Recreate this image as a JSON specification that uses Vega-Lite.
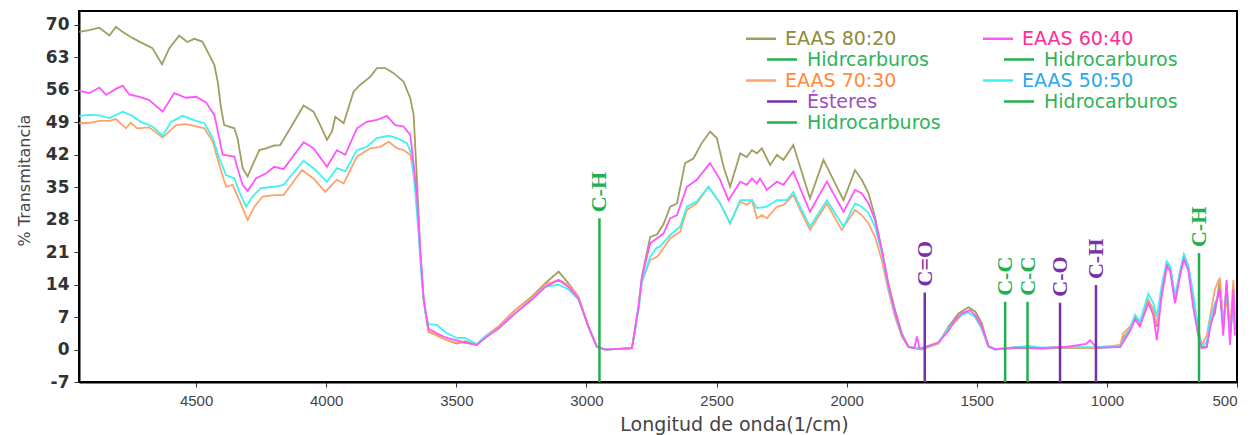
{
  "$schema": "https://vega.github.io/schema/vega-lite/v6.json",
  "width": 1158,
  "height": 371,
  "autosize": {"type": "none"},
  "padding": {"left": 79, "top": 11, "right": 20, "bottom": 53},
  "background": "white",
  "config": {
    "view": {"stroke": "black", "strokeWidth": 2},
    "axis": {"grid": false, "domainColor": "black", "domainWidth": 2, "tickColor": "#333", "tickSize": 5, "tickWidth": 1}
  },
  "datasets": {
    "ann": [
      {"s": "Hidrcarburos", "w": 2950, "top": 28.3, "lab": "C-H"},
      {"s": "Ésteres", "w": 1700, "top": 12.3, "lab": "C=O"},
      {"s": "Hidrocarburos (60:40)", "w": 1391, "top": 10.3, "lab": "C-C"},
      {"s": "Hidrocarburos (50:50)", "w": 1305, "top": 10.3, "lab": "C-C"},
      {"s": "Ésteres", "w": 1180, "top": 10.1, "lab": "C-O"},
      {"s": "Ésteres", "w": 1042, "top": 13.9, "lab": "C-H"},
      {"s": "Hidrocarburos (70:30)", "w": 646, "top": 20.8, "lab": "C-H"}
    ],
    "spec": [
      {"s":"EAAS 80:20","w":4949,"t":68.5},{"s":"EAAS 80:20","w":4910,"t":68.9},{"s":"EAAS 80:20","w":4872,"t":69.4},{"s":"EAAS 80:20","w":4833,"t":67.7},{"s":"EAAS 80:20","w":4808,"t":69.6},{"s":"EAAS 80:20","w":4783,"t":68.5},{"s":"EAAS 80:20","w":4745,"t":67.2},{"s":"EAAS 80:20","w":4718,"t":66.4},{"s":"EAAS 80:20","w":4668,"t":65.0},{"s":"EAAS 80:20","w":4631,"t":61.5},{"s":"EAAS 80:20","w":4603,"t":65.0},{"s":"EAAS 80:20","w":4565,"t":67.7},{"s":"EAAS 80:20","w":4534,"t":66.3},{"s":"EAAS 80:20","w":4507,"t":67.0},{"s":"EAAS 80:20","w":4476,"t":66.4},{"s":"EAAS 80:20","w":4449,"t":63.5},{"s":"EAAS 80:20","w":4430,"t":61.4},{"s":"EAAS 80:20","w":4417,"t":57.8},{"s":"EAAS 80:20","w":4404,"t":52.0},{"s":"EAAS 80:20","w":4392,"t":48.4},{"s":"EAAS 80:20","w":4353,"t":47.7},{"s":"EAAS 80:20","w":4341,"t":45.6},{"s":"EAAS 80:20","w":4321,"t":39.1},{"s":"EAAS 80:20","w":4302,"t":37.3},{"s":"EAAS 80:20","w":4283,"t":39.8},{"s":"EAAS 80:20","w":4257,"t":43.0},{"s":"EAAS 80:20","w":4231,"t":43.4},{"s":"EAAS 80:20","w":4200,"t":44.0},{"s":"EAAS 80:20","w":4177,"t":44.1},{"s":"EAAS 80:20","w":4138,"t":47.7},{"s":"EAAS 80:20","w":4087,"t":52.6},{"s":"EAAS 80:20","w":4049,"t":51.3},{"s":"EAAS 80:20","w":4023,"t":48.4},{"s":"EAAS 80:20","w":3997,"t":45.2},{"s":"EAAS 80:20","w":3978,"t":47.0},{"s":"EAAS 80:20","w":3965,"t":50.2},{"s":"EAAS 80:20","w":3933,"t":48.8},{"s":"EAAS 80:20","w":3895,"t":55.6},{"s":"EAAS 80:20","w":3869,"t":57.1},{"s":"EAAS 80:20","w":3831,"t":58.8},{"s":"EAAS 80:20","w":3805,"t":60.7},{"s":"EAAS 80:20","w":3773,"t":60.7},{"s":"EAAS 80:20","w":3741,"t":59.6},{"s":"EAAS 80:20","w":3703,"t":57.8},{"s":"EAAS 80:20","w":3677,"t":54.2},{"s":"EAAS 80:20","w":3664,"t":50.6},{"s":"EAAS 80:20","w":3651,"t":36.2},{"s":"EAAS 80:20","w":3639,"t":21.8},{"s":"EAAS 80:20","w":3626,"t":11.0},{"s":"EAAS 80:20","w":3607,"t":3.8},{"s":"EAAS 80:20","w":3575,"t":3.1},{"s":"EAAS 80:20","w":3536,"t":2.0},{"s":"EAAS 80:20","w":3498,"t":1.3},{"s":"EAAS 80:20","w":3466,"t":1.8},{"s":"EAAS 80:20","w":3421,"t":1.0},{"s":"EAAS 80:20","w":3389,"t":2.8},{"s":"EAAS 80:20","w":3338,"t":4.9},{"s":"EAAS 80:20","w":3274,"t":8.5},{"s":"EAAS 80:20","w":3210,"t":11.4},{"s":"EAAS 80:20","w":3158,"t":14.3},{"s":"EAAS 80:20","w":3107,"t":16.8},{"s":"EAAS 80:20","w":3069,"t":14.3},{"s":"EAAS 80:20","w":3031,"t":11.4},{"s":"EAAS 80:20","w":2992,"t":4.9},{"s":"EAAS 80:20","w":2960,"t":0.6},{"s":"EAAS 80:20","w":2928,"t":0},{"s":"EAAS 80:20","w":2825,"t":0.3},{"s":"EAAS 80:20","w":2800,"t":9.2},{"s":"EAAS 80:20","w":2787,"t":15.7},{"s":"EAAS 80:20","w":2755,"t":24.3},{"s":"EAAS 80:20","w":2729,"t":24.8},{"s":"EAAS 80:20","w":2704,"t":27.0},{"s":"EAAS 80:20","w":2678,"t":30.8},{"s":"EAAS 80:20","w":2652,"t":31.5},{"s":"EAAS 80:20","w":2621,"t":40.2},{"s":"EAAS 80:20","w":2589,"t":41.2},{"s":"EAAS 80:20","w":2557,"t":44.5},{"s":"EAAS 80:20","w":2525,"t":47.0},{"s":"EAAS 80:20","w":2499,"t":45.6},{"s":"EAAS 80:20","w":2473,"t":39.4},{"s":"EAAS 80:20","w":2448,"t":35.1},{"s":"EAAS 80:20","w":2409,"t":42.3},{"s":"EAAS 80:20","w":2384,"t":41.5},{"s":"EAAS 80:20","w":2364,"t":43.0},{"s":"EAAS 80:20","w":2345,"t":42.3},{"s":"EAAS 80:20","w":2326,"t":43.4},{"s":"EAAS 80:20","w":2294,"t":39.8},{"s":"EAAS 80:20","w":2268,"t":42.0},{"s":"EAAS 80:20","w":2243,"t":40.9},{"s":"EAAS 80:20","w":2205,"t":44.1},{"s":"EAAS 80:20","w":2179,"t":39.4},{"s":"EAAS 80:20","w":2141,"t":32.6},{"s":"EAAS 80:20","w":2089,"t":40.9},{"s":"EAAS 80:20","w":2051,"t":36.6},{"s":"EAAS 80:20","w":2012,"t":32.2},{"s":"EAAS 80:20","w":1968,"t":38.7},{"s":"EAAS 80:20","w":1942,"t":36.6},{"s":"EAAS 80:20","w":1916,"t":33.7},{"s":"EAAS 80:20","w":1891,"t":28.6},{"s":"EAAS 80:20","w":1865,"t":21.5},{"s":"EAAS 80:20","w":1840,"t":14.3},{"s":"EAAS 80:20","w":1814,"t":8.5},{"s":"EAAS 80:20","w":1788,"t":3.5},{"s":"EAAS 80:20","w":1763,"t":0.6},{"s":"EAAS 80:20","w":1711,"t":0},{"s":"EAAS 80:20","w":1648,"t":1.3},{"s":"EAAS 80:20","w":1609,"t":4.9},{"s":"EAAS 80:20","w":1570,"t":7.8},{"s":"EAAS 80:20","w":1532,"t":9.1},{"s":"EAAS 80:20","w":1506,"t":8.2},{"s":"EAAS 80:20","w":1481,"t":5.7},{"s":"EAAS 80:20","w":1455,"t":0.6},{"s":"EAAS 80:20","w":1430,"t":0},{"s":"EAAS 80:20","w":1350,"t":0.3},{"s":"EAAS 80:20","w":1250,"t":0.2},{"s":"EAAS 80:20","w":1150,"t":0.4},{"s":"EAAS 80:20","w":1050,"t":0.3},{"s":"EAAS 80:20","w":949,"t":0.6},{"s":"EAAS 80:20","w":937,"t":2.5},{"s":"EAAS 80:20","w":911,"t":4.5},{"s":"EAAS 80:20","w":892,"t":7.1},{"s":"EAAS 80:20","w":873,"t":5.7},{"s":"EAAS 80:20","w":841,"t":10.7},{"s":"EAAS 80:20","w":822,"t":8.5},{"s":"EAAS 80:20","w":808,"t":4.9},{"s":"EAAS 80:20","w":789,"t":12.8},{"s":"EAAS 80:20","w":770,"t":18.6},{"s":"EAAS 80:20","w":757,"t":17.9},{"s":"EAAS 80:20","w":738,"t":10.7},{"s":"EAAS 80:20","w":719,"t":16.4},{"s":"EAAS 80:20","w":704,"t":20.4},{"s":"EAAS 80:20","w":687,"t":17.9},{"s":"EAAS 80:20","w":668,"t":11.4},{"s":"EAAS 80:20","w":649,"t":4.2},{"s":"EAAS 80:20","w":636,"t":0.6},{"s":"EAAS 80:20","w":616,"t":0.6},{"s":"EAAS 80:20","w":604,"t":5.7},{"s":"EAAS 80:20","w":585,"t":7.8},{"s":"EAAS 80:20","w":566,"t":15.0},{"s":"EAAS 80:20","w":553,"t":4.2},{"s":"EAAS 80:20","w":540,"t":14.3},{"s":"EAAS 80:20","w":527,"t":2.0},{"s":"EAAS 80:20","w":514,"t":11.4},{"s":"EAAS 80:20","w":508,"t":4.2},

      {"s":"EAAS 70:30","w":4949,"t":48.8},{"s":"EAAS 70:30","w":4910,"t":48.9},{"s":"EAAS 70:30","w":4872,"t":49.3},{"s":"EAAS 70:30","w":4833,"t":49.3},{"s":"EAAS 70:30","w":4808,"t":49.7},{"s":"EAAS 70:30","w":4770,"t":47.7},{"s":"EAAS 70:30","w":4751,"t":48.9},{"s":"EAAS 70:30","w":4726,"t":47.7},{"s":"EAAS 70:30","w":4680,"t":47.9},{"s":"EAAS 70:30","w":4629,"t":45.7},{"s":"EAAS 70:30","w":4577,"t":48.4},{"s":"EAAS 70:30","w":4539,"t":48.6},{"s":"EAAS 70:30","w":4500,"t":48.1},{"s":"EAAS 70:30","w":4468,"t":47.7},{"s":"EAAS 70:30","w":4436,"t":44.8},{"s":"EAAS 70:30","w":4411,"t":39.8},{"s":"EAAS 70:30","w":4385,"t":35.1},{"s":"EAAS 70:30","w":4360,"t":35.5},{"s":"EAAS 70:30","w":4334,"t":32.2},{"s":"EAAS 70:30","w":4302,"t":27.9},{"s":"EAAS 70:30","w":4276,"t":30.8},{"s":"EAAS 70:30","w":4244,"t":33.0},{"s":"EAAS 70:30","w":4200,"t":33.3},{"s":"EAAS 70:30","w":4164,"t":33.3},{"s":"EAAS 70:30","w":4093,"t":38.7},{"s":"EAAS 70:30","w":4049,"t":36.9},{"s":"EAAS 70:30","w":4004,"t":34.0},{"s":"EAAS 70:30","w":3959,"t":36.6},{"s":"EAAS 70:30","w":3933,"t":35.8},{"s":"EAAS 70:30","w":3882,"t":41.6},{"s":"EAAS 70:30","w":3831,"t":43.4},{"s":"EAAS 70:30","w":3792,"t":43.7},{"s":"EAAS 70:30","w":3760,"t":44.8},{"s":"EAAS 70:30","w":3728,"t":43.4},{"s":"EAAS 70:30","w":3703,"t":43.0},{"s":"EAAS 70:30","w":3677,"t":42.0},{"s":"EAAS 70:30","w":3664,"t":38.0},{"s":"EAAS 70:30","w":3651,"t":32.0},{"s":"EAAS 70:30","w":3639,"t":21.0},{"s":"EAAS 70:30","w":3626,"t":11.0},{"s":"EAAS 70:30","w":3607,"t":4.0},{"s":"EAAS 70:30","w":3575,"t":3.0},{"s":"EAAS 70:30","w":3536,"t":2.0},{"s":"EAAS 70:30","w":3498,"t":1.5},{"s":"EAAS 70:30","w":3466,"t":1.5},{"s":"EAAS 70:30","w":3421,"t":1.0},{"s":"EAAS 70:30","w":3389,"t":2.8},{"s":"EAAS 70:30","w":3338,"t":5.0},{"s":"EAAS 70:30","w":3274,"t":8.5},{"s":"EAAS 70:30","w":3210,"t":11.2},{"s":"EAAS 70:30","w":3158,"t":14.0},{"s":"EAAS 70:30","w":3107,"t":15.0},{"s":"EAAS 70:30","w":3069,"t":14.0},{"s":"EAAS 70:30","w":3031,"t":11.4},{"s":"EAAS 70:30","w":2992,"t":4.9},{"s":"EAAS 70:30","w":2960,"t":0.6},{"s":"EAAS 70:30","w":2928,"t":0},{"s":"EAAS 70:30","w":2825,"t":0.3},{"s":"EAAS 70:30","w":2800,"t":9.0},{"s":"EAAS 70:30","w":2787,"t":14.5},{"s":"EAAS 70:30","w":2755,"t":19.3},{"s":"EAAS 70:30","w":2729,"t":20.0},{"s":"EAAS 70:30","w":2717,"t":20.8},{"s":"EAAS 70:30","w":2678,"t":24.0},{"s":"EAAS 70:30","w":2640,"t":25.4},{"s":"EAAS 70:30","w":2614,"t":30.1},{"s":"EAAS 70:30","w":2576,"t":31.5},{"s":"EAAS 70:30","w":2531,"t":35.1},{"s":"EAAS 70:30","w":2486,"t":31.5},{"s":"EAAS 70:30","w":2448,"t":27.2},{"s":"EAAS 70:30","w":2409,"t":31.9},{"s":"EAAS 70:30","w":2384,"t":31.2},{"s":"EAAS 70:30","w":2364,"t":32.2},{"s":"EAAS 70:30","w":2345,"t":28.3},{"s":"EAAS 70:30","w":2326,"t":29.0},{"s":"EAAS 70:30","w":2307,"t":28.3},{"s":"EAAS 70:30","w":2268,"t":30.8},{"s":"EAAS 70:30","w":2243,"t":31.2},{"s":"EAAS 70:30","w":2205,"t":33.3},{"s":"EAAS 70:30","w":2179,"t":30.1},{"s":"EAAS 70:30","w":2141,"t":25.8},{"s":"EAAS 70:30","w":2076,"t":31.5},{"s":"EAAS 70:30","w":2019,"t":25.8},{"s":"EAAS 70:30","w":1968,"t":30.1},{"s":"EAAS 70:30","w":1942,"t":29.0},{"s":"EAAS 70:30","w":1916,"t":27.2},{"s":"EAAS 70:30","w":1891,"t":24.3},{"s":"EAAS 70:30","w":1865,"t":19.3},{"s":"EAAS 70:30","w":1840,"t":12.8},{"s":"EAAS 70:30","w":1814,"t":7.0},{"s":"EAAS 70:30","w":1788,"t":2.8},{"s":"EAAS 70:30","w":1763,"t":0.5},{"s":"EAAS 70:30","w":1711,"t":0.1},{"s":"EAAS 70:30","w":1648,"t":1.3},{"s":"EAAS 70:30","w":1609,"t":4.5},{"s":"EAAS 70:30","w":1583,"t":6.0},{"s":"EAAS 70:30","w":1557,"t":7.5},{"s":"EAAS 70:30","w":1532,"t":8.0},{"s":"EAAS 70:30","w":1506,"t":7.0},{"s":"EAAS 70:30","w":1481,"t":4.5},{"s":"EAAS 70:30","w":1455,"t":0.6},{"s":"EAAS 70:30","w":1430,"t":0.1},{"s":"EAAS 70:30","w":1350,"t":0.5},{"s":"EAAS 70:30","w":1250,"t":0.3},{"s":"EAAS 70:30","w":1150,"t":0.6},{"s":"EAAS 70:30","w":1050,"t":0.3},{"s":"EAAS 70:30","w":949,"t":1.0},{"s":"EAAS 70:30","w":937,"t":3.5},{"s":"EAAS 70:30","w":911,"t":5.0},{"s":"EAAS 70:30","w":892,"t":6.5},{"s":"EAAS 70:30","w":873,"t":5.7},{"s":"EAAS 70:30","w":841,"t":10.7},{"s":"EAAS 70:30","w":822,"t":8.5},{"s":"EAAS 70:30","w":808,"t":5.5},{"s":"EAAS 70:30","w":789,"t":11.5},{"s":"EAAS 70:30","w":770,"t":17.5},{"s":"EAAS 70:30","w":757,"t":17.5},{"s":"EAAS 70:30","w":738,"t":10.0},{"s":"EAAS 70:30","w":719,"t":16.0},{"s":"EAAS 70:30","w":704,"t":19.5},{"s":"EAAS 70:30","w":687,"t":17.5},{"s":"EAAS 70:30","w":668,"t":11.0},{"s":"EAAS 70:30","w":649,"t":4.5},{"s":"EAAS 70:30","w":636,"t":1.0},{"s":"EAAS 70:30","w":616,"t":3.0},{"s":"EAAS 70:30","w":604,"t":7.0},{"s":"EAAS 70:30","w":585,"t":13.0},{"s":"EAAS 70:30","w":566,"t":15.5},{"s":"EAAS 70:30","w":553,"t":6.0},{"s":"EAAS 70:30","w":540,"t":11.0},{"s":"EAAS 70:30","w":527,"t":4.0},{"s":"EAAS 70:30","w":514,"t":15.0},{"s":"EAAS 70:30","w":508,"t":7.0},

      {"s":"EAAS 50:50","w":4949,"t":50.4},{"s":"EAAS 50:50","w":4910,"t":50.6},{"s":"EAAS 50:50","w":4872,"t":50.5},{"s":"EAAS 50:50","w":4833,"t":49.9},{"s":"EAAS 50:50","w":4782,"t":51.3},{"s":"EAAS 50:50","w":4745,"t":50.4},{"s":"EAAS 50:50","w":4713,"t":49.1},{"s":"EAAS 50:50","w":4667,"t":48.1},{"s":"EAAS 50:50","w":4629,"t":46.1},{"s":"EAAS 50:50","w":4596,"t":49.1},{"s":"EAAS 50:50","w":4552,"t":50.4},{"s":"EAAS 50:50","w":4500,"t":49.3},{"s":"EAAS 50:50","w":4468,"t":48.8},{"s":"EAAS 50:50","w":4436,"t":45.6},{"s":"EAAS 50:50","w":4411,"t":41.2},{"s":"EAAS 50:50","w":4385,"t":37.6},{"s":"EAAS 50:50","w":4353,"t":36.9},{"s":"EAAS 50:50","w":4334,"t":34.0},{"s":"EAAS 50:50","w":4308,"t":30.8},{"s":"EAAS 50:50","w":4283,"t":33.0},{"s":"EAAS 50:50","w":4251,"t":34.8},{"s":"EAAS 50:50","w":4200,"t":35.1},{"s":"EAAS 50:50","w":4164,"t":35.5},{"s":"EAAS 50:50","w":4087,"t":40.7},{"s":"EAAS 50:50","w":4049,"t":39.1},{"s":"EAAS 50:50","w":3997,"t":36.2},{"s":"EAAS 50:50","w":3959,"t":39.1},{"s":"EAAS 50:50","w":3927,"t":38.4},{"s":"EAAS 50:50","w":3882,"t":43.0},{"s":"EAAS 50:50","w":3844,"t":43.7},{"s":"EAAS 50:50","w":3805,"t":45.6},{"s":"EAAS 50:50","w":3760,"t":46.1},{"s":"EAAS 50:50","w":3728,"t":45.6},{"s":"EAAS 50:50","w":3690,"t":44.5},{"s":"EAAS 50:50","w":3671,"t":42.0},{"s":"EAAS 50:50","w":3658,"t":34.0},{"s":"EAAS 50:50","w":3645,"t":25.0},{"s":"EAAS 50:50","w":3633,"t":15.0},{"s":"EAAS 50:50","w":3620,"t":8.0},{"s":"EAAS 50:50","w":3607,"t":5.5},{"s":"EAAS 50:50","w":3575,"t":5.3},{"s":"EAAS 50:50","w":3536,"t":3.5},{"s":"EAAS 50:50","w":3498,"t":2.5},{"s":"EAAS 50:50","w":3466,"t":2.5},{"s":"EAAS 50:50","w":3421,"t":1.2},{"s":"EAAS 50:50","w":3389,"t":2.8},{"s":"EAAS 50:50","w":3338,"t":4.5},{"s":"EAAS 50:50","w":3274,"t":7.8},{"s":"EAAS 50:50","w":3210,"t":10.8},{"s":"EAAS 50:50","w":3158,"t":13.5},{"s":"EAAS 50:50","w":3107,"t":14.0},{"s":"EAAS 50:50","w":3069,"t":13.0},{"s":"EAAS 50:50","w":3031,"t":10.8},{"s":"EAAS 50:50","w":2992,"t":4.9},{"s":"EAAS 50:50","w":2960,"t":0.6},{"s":"EAAS 50:50","w":2928,"t":0},{"s":"EAAS 50:50","w":2825,"t":0.3},{"s":"EAAS 50:50","w":2800,"t":8.5},{"s":"EAAS 50:50","w":2787,"t":14.5},{"s":"EAAS 50:50","w":2755,"t":20.0},{"s":"EAAS 50:50","w":2729,"t":22.0},{"s":"EAAS 50:50","w":2717,"t":22.2},{"s":"EAAS 50:50","w":2678,"t":24.7},{"s":"EAAS 50:50","w":2640,"t":26.5},{"s":"EAAS 50:50","w":2614,"t":30.8},{"s":"EAAS 50:50","w":2576,"t":31.9},{"s":"EAAS 50:50","w":2531,"t":35.1},{"s":"EAAS 50:50","w":2486,"t":31.5},{"s":"EAAS 50:50","w":2448,"t":27.2},{"s":"EAAS 50:50","w":2409,"t":32.2},{"s":"EAAS 50:50","w":2364,"t":32.2},{"s":"EAAS 50:50","w":2345,"t":30.5},{"s":"EAAS 50:50","w":2307,"t":30.8},{"s":"EAAS 50:50","w":2268,"t":32.2},{"s":"EAAS 50:50","w":2230,"t":32.2},{"s":"EAAS 50:50","w":2205,"t":34.0},{"s":"EAAS 50:50","w":2179,"t":30.8},{"s":"EAAS 50:50","w":2141,"t":26.5},{"s":"EAAS 50:50","w":2076,"t":32.2},{"s":"EAAS 50:50","w":2012,"t":26.5},{"s":"EAAS 50:50","w":1968,"t":31.5},{"s":"EAAS 50:50","w":1942,"t":30.8},{"s":"EAAS 50:50","w":1916,"t":29.4},{"s":"EAAS 50:50","w":1891,"t":26.5},{"s":"EAAS 50:50","w":1865,"t":20.8},{"s":"EAAS 50:50","w":1840,"t":13.5},{"s":"EAAS 50:50","w":1814,"t":7.5},{"s":"EAAS 50:50","w":1788,"t":3.0},{"s":"EAAS 50:50","w":1763,"t":0.6},{"s":"EAAS 50:50","w":1711,"t":0.2},{"s":"EAAS 50:50","w":1648,"t":1.5},{"s":"EAAS 50:50","w":1609,"t":4.5},{"s":"EAAS 50:50","w":1583,"t":6.5},{"s":"EAAS 50:50","w":1557,"t":7.5},{"s":"EAAS 50:50","w":1532,"t":8.0},{"s":"EAAS 50:50","w":1506,"t":7.0},{"s":"EAAS 50:50","w":1481,"t":4.5},{"s":"EAAS 50:50","w":1455,"t":0.6},{"s":"EAAS 50:50","w":1430,"t":0},{"s":"EAAS 50:50","w":1350,"t":0.5},{"s":"EAAS 50:50","w":1300,"t":0.8},{"s":"EAAS 50:50","w":1250,"t":0.4},{"s":"EAAS 50:50","w":1150,"t":0.5},{"s":"EAAS 50:50","w":1050,"t":0.5},{"s":"EAAS 50:50","w":949,"t":0.8},{"s":"EAAS 50:50","w":911,"t":4.5},{"s":"EAAS 50:50","w":892,"t":7.5},{"s":"EAAS 50:50","w":873,"t":6.0},{"s":"EAAS 50:50","w":841,"t":12.0},{"s":"EAAS 50:50","w":822,"t":10.0},{"s":"EAAS 50:50","w":808,"t":7.0},{"s":"EAAS 50:50","w":789,"t":14.0},{"s":"EAAS 50:50","w":770,"t":19.0},{"s":"EAAS 50:50","w":757,"t":18.0},{"s":"EAAS 50:50","w":738,"t":11.5},{"s":"EAAS 50:50","w":719,"t":17.0},{"s":"EAAS 50:50","w":704,"t":20.5},{"s":"EAAS 50:50","w":687,"t":18.0},{"s":"EAAS 50:50","w":668,"t":12.0},{"s":"EAAS 50:50","w":649,"t":3.5},{"s":"EAAS 50:50","w":636,"t":0.8},{"s":"EAAS 50:50","w":616,"t":1.5},{"s":"EAAS 50:50","w":604,"t":6.5},{"s":"EAAS 50:50","w":585,"t":10.0},{"s":"EAAS 50:50","w":566,"t":12.0},{"s":"EAAS 50:50","w":553,"t":5.0},{"s":"EAAS 50:50","w":540,"t":13.0},{"s":"EAAS 50:50","w":527,"t":3.0},{"s":"EAAS 50:50","w":514,"t":10.0},{"s":"EAAS 50:50","w":508,"t":5.0},

      {"s":"EAAS 60:40","w":4949,"t":55.8},{"s":"EAAS 60:40","w":4910,"t":55.3},{"s":"EAAS 60:40","w":4872,"t":56.5},{"s":"EAAS 60:40","w":4846,"t":54.9},{"s":"EAAS 60:40","w":4808,"t":56.2},{"s":"EAAS 60:40","w":4782,"t":56.9},{"s":"EAAS 60:40","w":4757,"t":55.0},{"s":"EAAS 60:40","w":4718,"t":54.5},{"s":"EAAS 60:40","w":4680,"t":53.8},{"s":"EAAS 60:40","w":4629,"t":51.3},{"s":"EAAS 60:40","w":4584,"t":55.3},{"s":"EAAS 60:40","w":4539,"t":54.3},{"s":"EAAS 60:40","w":4500,"t":54.5},{"s":"EAAS 60:40","w":4462,"t":53.3},{"s":"EAAS 60:40","w":4430,"t":50.6},{"s":"EAAS 60:40","w":4411,"t":45.6},{"s":"EAAS 60:40","w":4398,"t":42.0},{"s":"EAAS 60:40","w":4353,"t":41.6},{"s":"EAAS 60:40","w":4341,"t":39.1},{"s":"EAAS 60:40","w":4321,"t":35.5},{"s":"EAAS 60:40","w":4302,"t":34.2},{"s":"EAAS 60:40","w":4270,"t":36.9},{"s":"EAAS 60:40","w":4231,"t":38.0},{"s":"EAAS 60:40","w":4200,"t":39.4},{"s":"EAAS 60:40","w":4164,"t":38.9},{"s":"EAAS 60:40","w":4087,"t":44.7},{"s":"EAAS 60:40","w":4049,"t":43.4},{"s":"EAAS 60:40","w":3997,"t":39.4},{"s":"EAAS 60:40","w":3959,"t":43.0},{"s":"EAAS 60:40","w":3927,"t":42.0},{"s":"EAAS 60:40","w":3882,"t":47.7},{"s":"EAAS 60:40","w":3844,"t":49.1},{"s":"EAAS 60:40","w":3805,"t":49.5},{"s":"EAAS 60:40","w":3767,"t":50.4},{"s":"EAAS 60:40","w":3735,"t":48.4},{"s":"EAAS 60:40","w":3703,"t":48.1},{"s":"EAAS 60:40","w":3677,"t":46.3},{"s":"EAAS 60:40","w":3664,"t":40.0},{"s":"EAAS 60:40","w":3651,"t":33.0},{"s":"EAAS 60:40","w":3639,"t":21.5},{"s":"EAAS 60:40","w":3626,"t":11.0},{"s":"EAAS 60:40","w":3607,"t":4.5},{"s":"EAAS 60:40","w":3575,"t":3.5},{"s":"EAAS 60:40","w":3536,"t":2.5},{"s":"EAAS 60:40","w":3498,"t":2.0},{"s":"EAAS 60:40","w":3466,"t":1.5},{"s":"EAAS 60:40","w":3421,"t":1.0},{"s":"EAAS 60:40","w":3389,"t":2.5},{"s":"EAAS 60:40","w":3338,"t":4.5},{"s":"EAAS 60:40","w":3274,"t":7.8},{"s":"EAAS 60:40","w":3210,"t":10.8},{"s":"EAAS 60:40","w":3158,"t":13.5},{"s":"EAAS 60:40","w":3107,"t":15.0},{"s":"EAAS 60:40","w":3069,"t":13.5},{"s":"EAAS 60:40","w":3031,"t":11.0},{"s":"EAAS 60:40","w":2992,"t":4.9},{"s":"EAAS 60:40","w":2960,"t":0.6},{"s":"EAAS 60:40","w":2928,"t":0},{"s":"EAAS 60:40","w":2825,"t":0.3},{"s":"EAAS 60:40","w":2800,"t":9.2},{"s":"EAAS 60:40","w":2787,"t":15.5},{"s":"EAAS 60:40","w":2755,"t":22.9},{"s":"EAAS 60:40","w":2729,"t":24.0},{"s":"EAAS 60:40","w":2704,"t":25.0},{"s":"EAAS 60:40","w":2678,"t":28.3},{"s":"EAAS 60:40","w":2652,"t":29.0},{"s":"EAAS 60:40","w":2614,"t":35.1},{"s":"EAAS 60:40","w":2576,"t":36.6},{"s":"EAAS 60:40","w":2525,"t":40.2},{"s":"EAAS 60:40","w":2486,"t":36.6},{"s":"EAAS 60:40","w":2454,"t":32.2},{"s":"EAAS 60:40","w":2409,"t":36.2},{"s":"EAAS 60:40","w":2384,"t":35.5},{"s":"EAAS 60:40","w":2364,"t":36.9},{"s":"EAAS 60:40","w":2345,"t":35.8},{"s":"EAAS 60:40","w":2333,"t":36.9},{"s":"EAAS 60:40","w":2307,"t":34.4},{"s":"EAAS 60:40","w":2268,"t":36.2},{"s":"EAAS 60:40","w":2243,"t":35.5},{"s":"EAAS 60:40","w":2205,"t":38.4},{"s":"EAAS 60:40","w":2179,"t":34.8},{"s":"EAAS 60:40","w":2141,"t":29.7},{"s":"EAAS 60:40","w":2076,"t":36.2},{"s":"EAAS 60:40","w":2012,"t":29.7},{"s":"EAAS 60:40","w":1968,"t":34.4},{"s":"EAAS 60:40","w":1942,"t":33.7},{"s":"EAAS 60:40","w":1916,"t":31.5},{"s":"EAAS 60:40","w":1891,"t":27.9},{"s":"EAAS 60:40","w":1865,"t":21.5},{"s":"EAAS 60:40","w":1840,"t":14.0},{"s":"EAAS 60:40","w":1814,"t":8.0},{"s":"EAAS 60:40","w":1788,"t":3.2},{"s":"EAAS 60:40","w":1763,"t":0.6},{"s":"EAAS 60:40","w":1740,"t":0.3},{"s":"EAAS 60:40","w":1730,"t":2.8},{"s":"EAAS 60:40","w":1720,"t":0.2},{"s":"EAAS 60:40","w":1648,"t":1.5},{"s":"EAAS 60:40","w":1609,"t":4.0},{"s":"EAAS 60:40","w":1583,"t":6.4},{"s":"EAAS 60:40","w":1557,"t":7.8},{"s":"EAAS 60:40","w":1526,"t":8.5},{"s":"EAAS 60:40","w":1506,"t":7.4},{"s":"EAAS 60:40","w":1481,"t":5.0},{"s":"EAAS 60:40","w":1455,"t":0.8},{"s":"EAAS 60:40","w":1430,"t":0.1},{"s":"EAAS 60:40","w":1350,"t":0.4},{"s":"EAAS 60:40","w":1250,"t":0.3},{"s":"EAAS 60:40","w":1150,"t":0.6},{"s":"EAAS 60:40","w":1080,"t":1.2},{"s":"EAAS 60:40","w":1065,"t":2.0},{"s":"EAAS 60:40","w":1040,"t":0.4},{"s":"EAAS 60:40","w":949,"t":0.5},{"s":"EAAS 60:40","w":911,"t":4.0},{"s":"EAAS 60:40","w":892,"t":6.5},{"s":"EAAS 60:40","w":873,"t":5.0},{"s":"EAAS 60:40","w":841,"t":10.0},{"s":"EAAS 60:40","w":822,"t":7.5},{"s":"EAAS 60:40","w":808,"t":2.0},{"s":"EAAS 60:40","w":789,"t":12.0},{"s":"EAAS 60:40","w":770,"t":18.0},{"s":"EAAS 60:40","w":757,"t":17.0},{"s":"EAAS 60:40","w":738,"t":10.0},{"s":"EAAS 60:40","w":719,"t":16.0},{"s":"EAAS 60:40","w":704,"t":19.5},{"s":"EAAS 60:40","w":687,"t":17.0},{"s":"EAAS 60:40","w":668,"t":9.0},{"s":"EAAS 60:40","w":649,"t":3.0},{"s":"EAAS 60:40","w":636,"t":0.3},{"s":"EAAS 60:40","w":616,"t":0.5},{"s":"EAAS 60:40","w":604,"t":4.5},{"s":"EAAS 60:40","w":585,"t":9.0},{"s":"EAAS 60:40","w":566,"t":13.0},{"s":"EAAS 60:40","w":553,"t":3.0},{"s":"EAAS 60:40","w":540,"t":15.0},{"s":"EAAS 60:40","w":527,"t":1.0},{"s":"EAAS 60:40","w":514,"t":13.0},{"s":"EAAS 60:40","w":508,"t":3.0}
    ]
  },
  "layer": [
    {
      "data": {"name": "spec"},
      "mark": {"type": "line", "strokeWidth": 1.8, "interpolate": "linear"},
      "encoding": {
        "x": {
          "field": "w", "type": "quantitative",
          "scale": {"domain": [500, 4950], "reverse": true, "nice": false, "zero": false},
          "axis": {
            "values": [4500, 4000, 3500, 3000, 2500, 2000, 1500, 1000, 500],
            "tickCount": 20,
            "format": "d",
            "labelFont": "Liberation Sans", "labelFontSize": 15, "labelColor": "#444",
            "labelPadding": 6,
            "title": "Longitud de onda(1/cm)",
            "titleFont": "DejaVu Sans", "titleFontSize": 19, "titleFontWeight": "normal", "titleColor": "#444",
            "titlePadding": 7,
            "titleX": 655
          }
        },
        "y": {
          "field": "t", "type": "quantitative",
          "scale": {"domain": [-7, 73], "nice": false, "zero": false},
          "axis": {
            "values": [-7, 0, 7, 14, 21, 28, 35, 42, 49, 56, 63, 70],
            "tickCount": 20,
            "labelExpr": "'' + datum.value",
            "labelOverlap": false,
            "labelFont": "DejaVu Sans", "labelFontSize": 17, "labelFontWeight": "bold", "labelColor": "#333",
            "labelPadding": 5,
            "title": "% Transmitancia",
            "titleFont": "DejaVu Sans", "titleFontSize": 16, "titleFontWeight": "normal", "titleColor": "#444",
            "titlePadding": 13,
            "titleY": 169
          }
        },
        "color": {
          "field": "s", "type": "nominal",
          "scale": {
            "domain": ["EAAS 80:20", "Hidrcarburos", "EAAS 70:30", "Ésteres", "Hidrocarburos (70:30)", "EAAS 60:40", "Hidrocarburos (60:40)", "EAAS 50:50", "Hidrocarburos (50:50)"],
            "range": ["#a09e62", "#22b04e", "#ffa26a", "#7a30a8", "#22b04e", "#ff55ff", "#22b04e", "#3ff2f2", "#22b04e"]
          },
          "legend": {
            "title": null,
            "orient": "none",
            "legendX": 666,
            "legendY": 17,
            "columns": 2,
            "columnPadding": 36,
            "rowPadding": 0,
            "padding": 0,
            "symbolType": "M-1.67,0L1.67,0",
            "symbolSize": 324,
            "symbolStrokeWidth": 2.5,
            "labelFont": "DejaVu Sans",
            "labelFontSize": 19,
            "labelLimit": 300,
            "labelExpr": "split(datum.label, ' (')[0]",
            "encode": {
              "symbols": {
                "update": {
                  "x": {"signal": "indexof(datum.value, 'EAAS') == 0 ? 16 : 37"},
                  "fill": {"value": "transparent"},
                  "stroke": {"signal": "datum.value == 'EAAS 80:20' ? '#8c8a3c' : datum.value == 'EAAS 60:40' ? '#ff3d9a' : datum.value == 'EAAS 70:30' ? '#ff9a5a' : datum.value == 'EAAS 50:50' ? '#3ab4ee' : datum.value == 'Ésteres' ? '#9b4fc0' : '#2fb35a'"}
                }
              },
              "labels": {
                "update": {
                  "x": {"signal": "indexof(datum.value, 'EAAS') == 0 ? 40 : 62"},
                  "fill": {"signal": "datum.value == 'EAAS 80:20' ? '#8c8a3c' : datum.value == 'EAAS 60:40' ? '#ff2d95' : datum.value == 'EAAS 70:30' ? '#ff8a3d' : datum.value == 'EAAS 50:50' ? '#2aa8e8' : datum.value == 'Ésteres' ? '#9b4fc0' : '#2fb35a'"}
                }
              }
            }
          }
        }
      }
    },
    {
      "data": {"name": "ann"},
      "mark": {"type": "rule", "strokeWidth": 2.5},
      "encoding": {
        "x": {"field": "w", "type": "quantitative"},
        "y": {"field": "top", "type": "quantitative"},
        "y2": {"datum": -7},
        "color": {"field": "s", "type": "nominal"}
      }
    },
    {
      "data": {"name": "ann"},
      "mark": {"type": "text", "angle": 270, "align": "left", "baseline": "middle", "dx": 6, "font": "Liberation Serif", "fontWeight": "bold", "fontSize": 22},
      "encoding": {
        "x": {"field": "w", "type": "quantitative"},
        "y": {"field": "top", "type": "quantitative"},
        "text": {"field": "lab"},
        "color": {"field": "s", "type": "nominal"}
      }
    }
  ]
}
